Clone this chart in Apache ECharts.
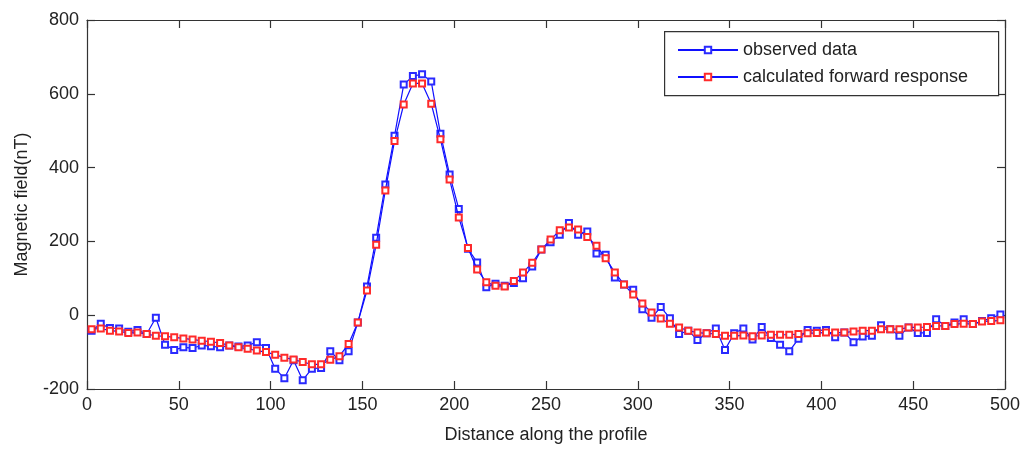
<!DOCTYPE html>
<html>
<head>
<meta charset="utf-8">
<script src="https://cdn.jsdelivr.net/npm/echarts@6/dist/echarts.min.js"></script>
<style>
html,body{margin:0;padding:0;background:#fff;}
#chart{width:1023px;height:449px;}
</style>
</head>
<body>
<div id="chart"></div>
<script>
var distance = [2.5,7.5,12.5,17.5,22.5,27.5,32.5,37.5,42.5,47.5,
52.5,57.5,62.5,67.5,72.5,77.5,82.5,87.5,92.5,97.5,
102.5,107.5,112.5,117.5,122.5,127.5,132.5,137.5,142.5,147.5,
152.5,157.5,162.5,167.5,172.5,177.5,182.5,187.5,192.5,197.5,
202.5,207.5,212.5,217.5,222.5,227.5,232.5,237.5,242.5,247.5,
252.5,257.5,262.5,267.5,272.5,277.5,282.5,287.5,292.5,297.5,
302.5,307.5,312.5,317.5,322.5,327.5,332.5,337.5,342.5,347.5,
352.5,357.5,362.5,367.5,372.5,377.5,382.5,387.5,392.5,397.5,
402.5,407.5,412.5,417.5,422.5,427.5,432.5,437.5,442.5,447.5,
452.5,457.5,462.5,467.5,472.5,477.5,482.5,487.5,492.5,497.5];

var observed = [-42,-23,-35,-36,-45,-40,-51,-7,-80,-94,
-87,-89,-82,-84,-87,-82,-85,-82,-73,-89,
-145,-171,-122,-176,-145,-143,-98,-122,-98,-20,
78,210,354,486,625,648,653,633,492,381,
288,180,143,76,85,80,87,100,132,178,
198,218,250,218,227,167,164,102,83,69,
16,-7,22,-8,-51,-42,-67,-49,-36,-94,
-49,-36,-66,-32,-62,-80,-98,-64,-40,-42,
-40,-60,-47,-73,-58,-56,-27,-38,-56,-33,
-48,-48,-11,-29,-20,-11,-24,-16,-8,2];

var calculated = [-38,-36,-42,-44,-48,-47,-51,-56,-57,-60,
-63,-66,-69,-72,-75,-82,-87,-91,-96,-100,
-107,-115,-120,-127,-133,-133,-121,-111,-78,-20,
67,191,338,472,571,628,628,573,477,368,
265,182,124,89,80,78,93,116,142,178,
205,230,238,232,212,188,154,116,83,56,
32,7,-9,-23,-33,-42,-47,-49,-51,-56,
-56,-55,-57,-55,-53,-53,-53,-51,-49,-48,
-47,-47,-47,-44,-42,-42,-38,-38,-38,-33,
-33,-32,-29,-29,-24,-23,-24,-17,-16,-14];

var xTicks = {min: 0, max: 500, interval: 50};
var yTicks = {min: -200, max: 800, interval: 200};

function pairs(xs, ys) {
  return xs.map(function (x, i) { return [x, ys[i]]; });
}

var FONT = 'Liberation Sans, Arial, sans-serif';
var TXT = '#222';
var AX = '#333';

var chart = echarts.init(document.getElementById('chart'), null, {renderer: 'canvas'});

function baseAxis(extra) {
  return Object.assign({
    type: 'value',
    axisLine: {show: true, onZero: false, lineStyle: {color: AX, width: 1.2}},
    axisTick: {show: true, inside: true, length: 8, lineStyle: {color: AX, width: 1.2}},
    splitLine: {show: false}
  }, extra);
}

chart.setOption({
  animation: false,
  backgroundColor: '#fff',
  grid: {left: 87, right: 18, top: 20, bottom: 55, containLabel: false},
  xAxis: [
    baseAxis({
      min: xTicks.min, max: xTicks.max, interval: xTicks.interval,
      position: 'bottom',
      name: 'Distance along the profile', nameLocation: 'middle', nameGap: 37,
      nameTextStyle: {color: TXT, fontSize: 18, fontFamily: FONT},
      axisLabel: {color: TXT, fontSize: 18, fontFamily: FONT, margin: 7}
    }),
    baseAxis({
      min: xTicks.min, max: xTicks.max, interval: xTicks.interval,
      position: 'top', axisLabel: {show: false}
    })
  ],
  yAxis: [
    baseAxis({
      min: yTicks.min, max: yTicks.max, interval: yTicks.interval,
      position: 'left',
      name: 'Magnetic field(nT)', nameLocation: 'middle', nameGap: 56,
      nameTextStyle: {color: TXT, fontSize: 18, fontFamily: FONT},
      axisLabel: {color: TXT, fontSize: 18, fontFamily: FONT, margin: 8}
    }),
    baseAxis({
      min: yTicks.min, max: yTicks.max, interval: yTicks.interval,
      position: 'right', axisLabel: {show: false}
    })
  ],
  graphic: [{
    type: 'rect',
    left: 664, top: 31,
    shape: {width: 334, height: 64},
    style: {fill: '#fff', stroke: AX, lineWidth: 1.2},
    z: 90
  }],
  legend: {
    orient: 'vertical',
    left: 677, top: 40,
    padding: 0,
    itemWidth: 60, itemHeight: 8, itemGap: 7,
    z: 100,
    textStyle: {color: TXT, fontSize: 18, fontFamily: FONT, lineHeight: 20},
    data: ['observed data', 'calculated forward response']
  },
  series: [
    {
      name: 'observed data',
      type: 'line',
      data: pairs(distance, observed),
      symbol: 'emptyRect', symbolSize: 6,
      lineStyle: {color: '#1010ff', width: 1.2},
      itemStyle: {color: '#2a2aff', borderWidth: 1.5},
      z: 2
    },
    {
      name: 'calculated forward response',
      type: 'line',
      data: pairs(distance, calculated),
      symbol: 'emptyRect', symbolSize: 6,
      lineStyle: {color: '#1010ff', width: 1.2},
      itemStyle: {color: '#ff2a2a', borderWidth: 1.5},
      z: 3
    }
  ]
});
</script>
</body>
</html>
